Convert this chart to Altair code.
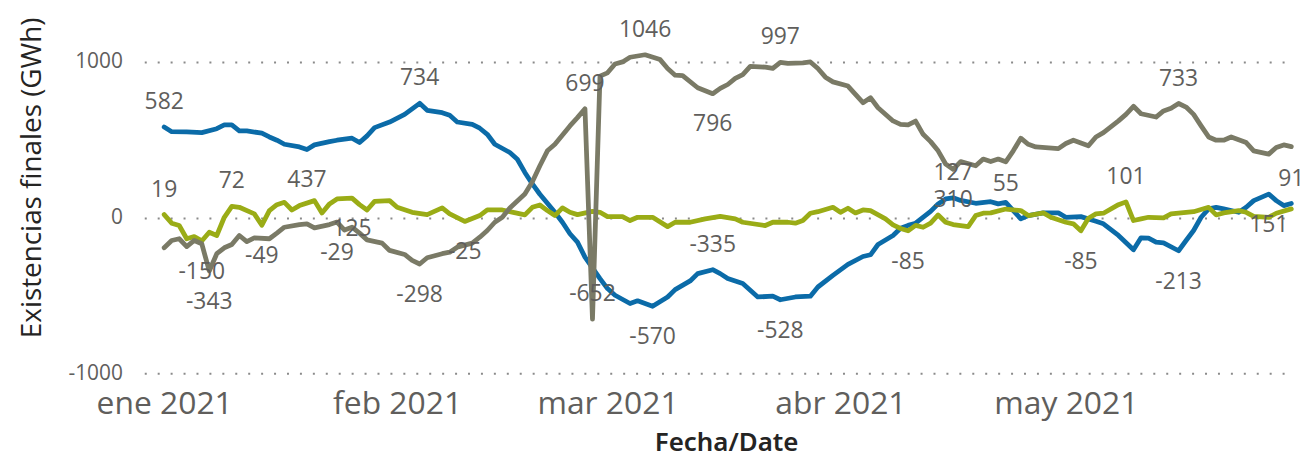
import json
import altair as alt
import pandas as pd

START = "2021-01-01"

blue_days = [0,1,3,5,7,8,9,10,11,13,14,15,16,18,19,20,22,23,25,26,27,28,30,32,34,35,37,38,39,41,42,43,44,46,47,48,49,50,52,53,54,55,56,58,59,60,62,63,65,67,68,70,71,73,74,75,77,79,81,82,84,86,87,89,91,93,94,95,97,98,99,100,102,103,104,105,106,108,110,111,112,113,114,115,117,119,120,122,124,125,127,129,130,131,132,133,135,136,137,138,139,140,141,143,144,145,147,148,149,150]
blue_vals = [582,552,550,546,571,595,595,557,557,542,518,497,471,454,437,467,488,497,510,482,525,578,614,663,734,689,674,657,614,599,574,535,471,418,375,290,216,150,34,-30,-104,-158,-254,-392,-456,-499,-552,-535,-570,-510,-463,-407,-360,-335,-360,-392,-424,-510,-505,-528,-510,-505,-446,-371,-301,-250,-239,-173,-115,-68,-50,-36,40,88,120,127,110,92,102,88,98,45,-8,13,30,30,2,6,-24,-40,-115,-207,-130,-132,-158,-162,-213,-147,-83,2,56,66,56,34,66,109,151,109,77,91]

gray_days = [0,1,2,3,4,5,6,7,8,9,10,11,12,14,15,16,18,19,20,22,23,24,25,26,27,29,30,32,33,34,35,37,38,39,41,42,43,44,45,46,48,49,50,51,52,54,55,56,57,58,59,60,61,62,64,66,67,68,69,71,73,74,75,76,77,78,80,81,82,83,85,86,87,88,89,91,92,93,94,95,97,98,99,100,101,102,103,104,105,106,108,109,110,111,112,113,114,115,116,119,120,121,123,124,125,127,128,129,130,132,133,134,135,136,137,138,139,140,141,142,144,145,147,148,149,150]
gray_vals = [-194,-147,-136,-186,-147,-168,-343,-232,-194,-173,-115,-154,-130,-136,-100,-62,-45,-40,-66,-45,-29,-80,-62,-100,-143,-164,-211,-237,-275,-298,-258,-232,-222,-190,-164,-126,-83,-30,2,62,152,230,333,429,471,589,642,699,-652,909,930,987,1000,1030,1046,1015,958,915,912,834,796,830,855,894,919,972,966,958,997,990,994,1000,958,902,872,845,791,738,770,706,621,599,595,620,535,488,429,344,310,360,333,376,360,376,358,429,510,471,454,443,476,497,461,518,546,621,663,715,667,646,685,702,733,710,663,589,518,497,497,518,482,429,408,450,467,456]

green_days = [0,1,2,3,4,5,6,7,8,9,10,12,13,14,15,16,17,18,20,21,22,23,25,26,27,28,30,31,33,35,37,38,40,42,43,45,46,48,49,50,51,52,53,54,55,57,58,59,61,62,63,65,67,68,70,72,74,76,77,80,81,83,84,85,86,87,89,90,91,92,93,94,96,97,98,99,100,101,102,103,104,105,107,108,109,110,112,114,115,117,118,120,121,122,123,124,125,127,128,129,130,131,133,134,136,137,139,140,141,143,144,145,147,148,150]
green_vals = [19,-36,-51,-136,-122,-150,-94,-115,2,72,66,24,-49,45,83,98,49,77,109,30,88,120,125,83,49,104,109,66,34,19,62,24,-25,13,49,49,38,17,66,81,45,13,62,34,19,40,34,6,6,-19,2,2,-58,-30,-30,-8,8,-8,-30,-51,-30,-30,-36,-19,28,38,66,34,60,30,49,45,-8,-47,-70,-85,-50,-62,-36,17,-30,-45,-58,13,28,30,55,45,13,30,2,-30,-40,-85,-4,24,28,83,101,-19,-8,2,-2,24,34,38,66,17,30,45,34,8,2,28,56]

label_series = ["blue","blue","blue","blue","blue","blue","blue","blue","blue","blue",
                "gray","gray","gray","gray","gray","gray","gray","gray","gray","gray",
                "green","green","green","green","green","green","green","green","green","green"]
label_days = [0,34,19,65,73,82,105,135,147,150,
              6,23,34,56,57,64,73,82,105,135,
              0,5,9,13,25,40,99,112,122,128]
label_text = ["582","734","437","-570","-335","-528","127","-213","151","91",
              "-343","-29","-298","699","-652","1046","796","997","310","733",
              "19","-150","72","-49","125","-25","-85","55","-85","101"]
label_pos = ["above","above","below","below","above","below","above","below","below","above",
             "below","below","below","above","above","above","below","above","below","above",
             "above","below","above","below","below","below","below","above","below","above"]

month_labels = ["ene 2021", "feb 2021", "mar 2021", "abr 2021", "may 2021"]
month_days = [0, 31, 59, 90, 120]
y_ticks = [-1000, 0, 1000]

colors = {"blue": "#0B6BA8", "green": "#9AAC16", "gray": "#7A7A66"}
series = {"blue": (blue_days, blue_vals), "green": (green_days, green_vals), "gray": (gray_days, gray_vals)}

t0 = pd.Timestamp(START)
def dstr(d):
    return (t0 + pd.Timedelta(days=d)).strftime("%Y-%m-%d")
def ms(d):
    return int((pd.Timestamp(START, tz="UTC") + pd.Timedelta(days=d)).value // 10**6)

rows = []
for name, (ds, vs) in series.items():
    for d, v in zip(ds, vs):
        rows.append({"date": dstr(d), "value": v, "series": name})
df = pd.DataFrame(rows)

lrows = []
for s, d, t, p in zip(label_series, label_days, label_text, label_pos):
    lookup = dict(zip(*series[s]))
    lrows.append({"date": dstr(d), "value": lookup[d], "text": t, "pos": p})
ldf = pd.DataFrame(lrows)

FONT = "Open Sans"
PLOT_W, PLOT_H = 1157, 313

x_scale = alt.Scale(type="utc", domain=[ms(-2.65), ms(150.5)])
y_scale = alt.Scale(domain=[-1000, 1000], nice=False, zero=False)

label_expr = json.dumps(month_labels) + "[utcmonth(datum.value)]"

x_enc = alt.X("date:T", scale=x_scale,
              axis=alt.Axis(values=[ms(d) for d in month_days], labelExpr=label_expr,
                            labelFont=FONT, labelFontSize=32, labelColor="#605E5C",
                            labelPadding=15, labelFlush=False, labelOverlap=False,
                            grid=False, domain=False, ticks=False,
                            title="Fecha/Date", titleFont="Noto Sans", titleFontSize=26,
                            titleFontWeight=600, titleColor="#252423",
                            titleX=585, titleY=70, titleBaseline="middle"))
y_enc = alt.Y("value:Q", scale=y_scale,
              axis=alt.Axis(values=y_ticks, grid=True, gridDash=[2, 11], gridColor="#8a8a8a",
                            gridWidth=2, domain=False, ticks=False,
                            labelExpr="datum.value + ''",
                            labelFont=FONT, labelFontSize=21, labelColor="#605E5C", labelPadding=22,
                            title="Existencias finales (GWh)", titleFont=FONT, titleFontSize=28,
                            titleFontWeight="normal", titleColor="#252423",
                            titleX=-112, titleY=116, titleBaseline="middle"))

base = alt.Chart(df)
layers = []
for name in ["blue", "green", "gray"]:
    layers.append(
        base.transform_filter(alt.datum.series == name)
        .mark_line(strokeWidth=4.8, strokeJoin="round", strokeCap="round", color=colors[name], clip=False)
        .encode(x=x_enc, y=y_enc)
    )

lbase = alt.Chart(ldf)
for pos, dy in [("above", -25), ("below", 31)]:
    layers.append(
        lbase.transform_filter(alt.datum.pos == pos)
        .mark_text(font=FONT, fontSize=23, color="#605E5C", align="center", baseline="middle", dy=dy)
        .encode(x=alt.X("date:T", scale=x_scale), y=alt.Y("value:Q", scale=y_scale), text="text:N")
    )

chart = alt.layer(*layers).properties(
    width=PLOT_W, height=PLOT_H,
    autosize=alt.AutoSizeParams(type="none"),
    padding={"left": 137, "top": 53, "right": 8, "bottom": 85},
    background="white",
).configure_view(stroke=None)

chart.save("out.html", embed_options={"renderer": "svg", "actions": False})
